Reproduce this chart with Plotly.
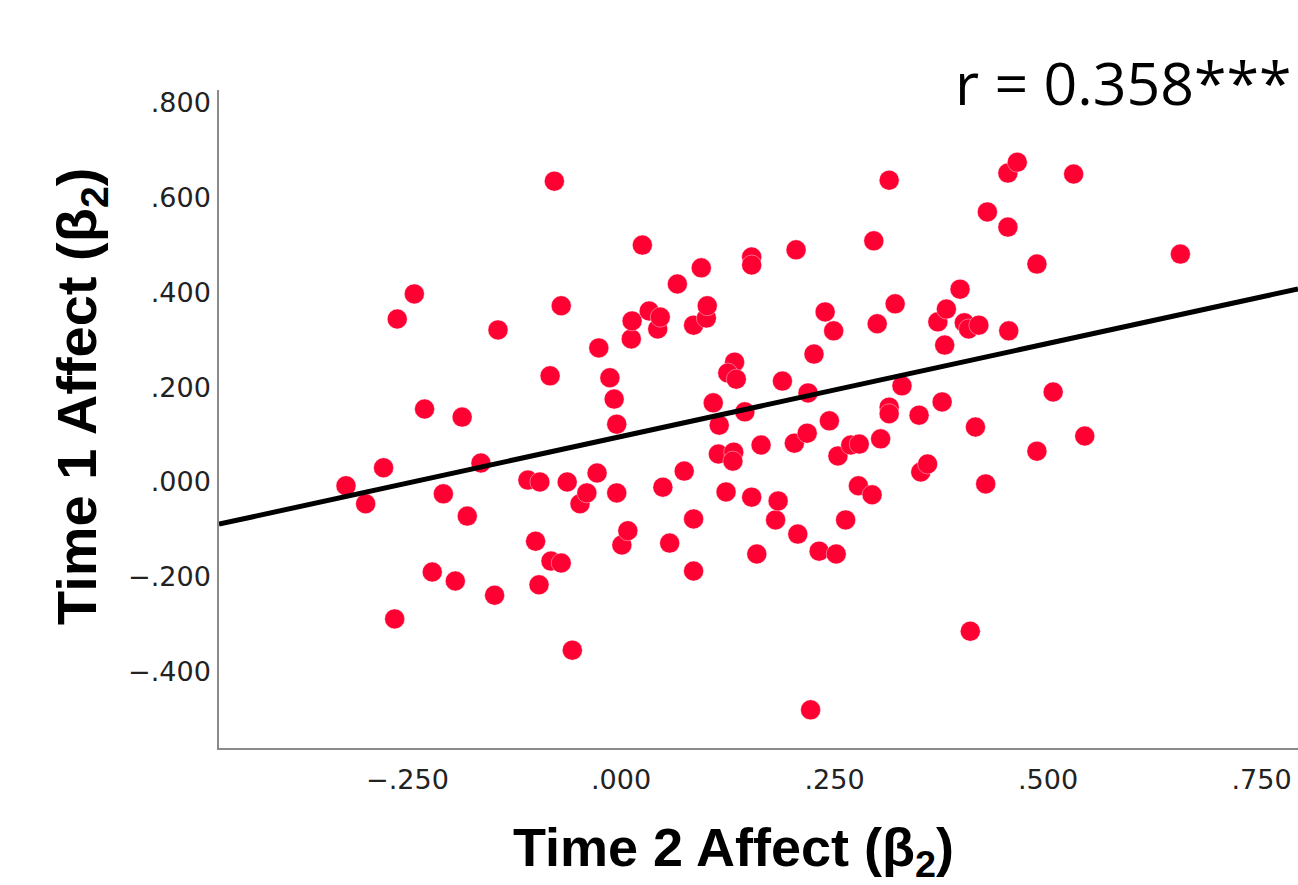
import plotly.graph_objects as go

# Data
time2_affect = [-0.322, -0.299, -0.278, -0.242, -0.262, -0.230, -0.265, -0.221, -0.208, -0.194,
                -0.186, -0.180, -0.164, -0.148, -0.144, -0.109, -0.100, -0.095, -0.096, -0.083,
                -0.078, -0.082, -0.070, -0.070, -0.063, -0.057, -0.048, -0.040, -0.028, -0.026,
                -0.013, -0.008, -0.005, -0.005, 0.001, 0.008, 0.012, 0.013, 0.025, 0.033,
                0.043, 0.046, 0.049, 0.057, 0.066, 0.074, 0.085, 0.085, 0.085, 0.094,
                0.100, 0.101, 0.108, 0.114, 0.115, 0.133, 0.123, 0.125, 0.132, 0.131,
                0.135, 0.145, 0.153, 0.153, 0.153, 0.159, 0.164, 0.181, 0.189, 0.184,
                0.205, 0.203, 0.207, 0.218, 0.219, 0.222, 0.226, 0.232, 0.239, 0.244,
                0.249, 0.252, 0.254, 0.263, 0.269, 0.278, 0.279, 0.296, 0.300, 0.304,
                0.314, 0.314, 0.314, 0.321, 0.329, 0.349, 0.351, 0.359, 0.371, 0.376,
                0.379, 0.381, 0.397, 0.402, 0.407, 0.415, 0.419, 0.429, 0.427, 0.409,
                0.453, 0.453, 0.464, 0.454, 0.487, 0.487, 0.506, 0.530, 0.543, 0.655,
                0.294]
time1_affect = [-0.008, -0.046, 0.030, 0.397, 0.344, 0.154, -0.289, -0.190, -0.025, -0.209,
                0.137, -0.072, 0.040, -0.239, 0.321, 0.004, -0.125, 0.000, -0.217, 0.224,
                0.635, -0.167, -0.171, 0.372, 0.000, -0.355, -0.046, -0.023, 0.019, 0.283,
                0.220, 0.175, 0.122, -0.023, -0.133, -0.103, 0.302, 0.340, 0.500, 0.361,
                0.323, 0.348, -0.011, -0.129, 0.418, 0.023, 0.331, -0.078, -0.188, 0.452,
                0.346, 0.372, 0.167, 0.059, 0.120, 0.253, -0.021, 0.230, 0.063, 0.044,
                0.217, 0.148, 0.475, 0.458, -0.032, -0.152, 0.078, -0.080, 0.213, -0.040,
                0.490, 0.082, -0.110, 0.103, 0.188, -0.481, 0.270, -0.146, 0.359, 0.129,
                0.319, -0.152, 0.055, -0.080, 0.078, -0.008, 0.080, 0.509, 0.334, 0.091,
                0.637, 0.158, 0.144, 0.376, 0.203, 0.141, 0.021, 0.038, 0.338, 0.169,
                0.289, 0.365, 0.407, 0.336, 0.323, 0.116, 0.331, 0.570, -0.004, -0.315,
                0.538, 0.652, 0.675, 0.319, 0.065, 0.460, 0.190, 0.650, 0.097, 0.481,
                -0.027]

fit_slope = 0.393
fit_intercept = 0.096
r_label = "r = 0.358***"

x_range = [-0.4707, 0.7927]
y_range = [-0.5615, 0.8274]
x_tickvals = [-0.25, 0.0, 0.25, 0.5, 0.75]
x_ticktext = ["\u2212.250", ".000", ".250", ".500", ".750"]
y_tickvals = [-0.4, -0.2, 0.0, 0.2, 0.4, 0.6, 0.8]
y_ticktext = ["\u2212.400", "\u2212.200", ".000", ".200", ".400", ".600", ".800"]

x_title = "Time 2 Affect (\u03b2<sub>2</sub>)"
y_title = "Time 1 Affect (\u03b2<sub>2</sub>)"

fig = go.Figure()

fig.add_trace(go.Scatter(
    x=time2_affect, y=time1_affect, mode="markers",
    marker=dict(color="#FF0033", size=20, line=dict(color="rgba(255,255,255,0.5)", width=0.8)),
    showlegend=False, hoverinfo="x+y",
))

fit_x = x_range
fit_y = [fit_intercept + fit_slope * v for v in fit_x]
fig.add_trace(go.Scatter(
    x=fit_x, y=fit_y, mode="lines",
    line=dict(color="black", width=5), showlegend=False, hoverinfo="skip",
))

axis_common = dict(
    showgrid=False, zeroline=False, showline=True, linecolor="#8a8a8a", linewidth=1.5,
    ticks="outside", tickcolor="rgba(0,0,0,0)",
    tickfont=dict(family="DejaVu Sans", size=27, color="#222222"),
)

fig.update_xaxes(range=x_range, tickvals=x_tickvals, ticktext=x_ticktext, ticklen=7, **axis_common)
fig.update_yaxes(range=y_range, tickvals=y_tickvals, ticktext=y_ticktext, ticklen=1, **axis_common)

fig.update_layout(
    width=1298, height=885,
    margin=dict(l=219, r=0, t=90, b=137),
    plot_bgcolor="white", paper_bgcolor="white",
    annotations=[
        dict(text="<b>" + x_title + "</b>", xref="paper", yref="paper", x=0.4764, y=-0.157,
             xanchor="center", yanchor="middle", showarrow=False,
             font=dict(family="Liberation Sans", size=54, color="black")),
        dict(text="<b>" + y_title + "</b>", xref="paper", yref="paper", x=-0.1288, y=0.5334,
             xanchor="center", yanchor="middle", showarrow=False, textangle=-90,
             font=dict(family="Liberation Sans", size=56, color="black")),
        dict(text=r_label, xref="paper", yref="paper", x=0.9954, y=1.012,
             xanchor="right", yanchor="middle", showarrow=False,
             font=dict(family="Open Sans", size=59, color="black")),
    ],
)

fig.write_html(
    "out.html",
    config={"displayModeBar": False},
    post_script="document.body.style.margin='0';document.body.style.overflow='hidden';",
)
